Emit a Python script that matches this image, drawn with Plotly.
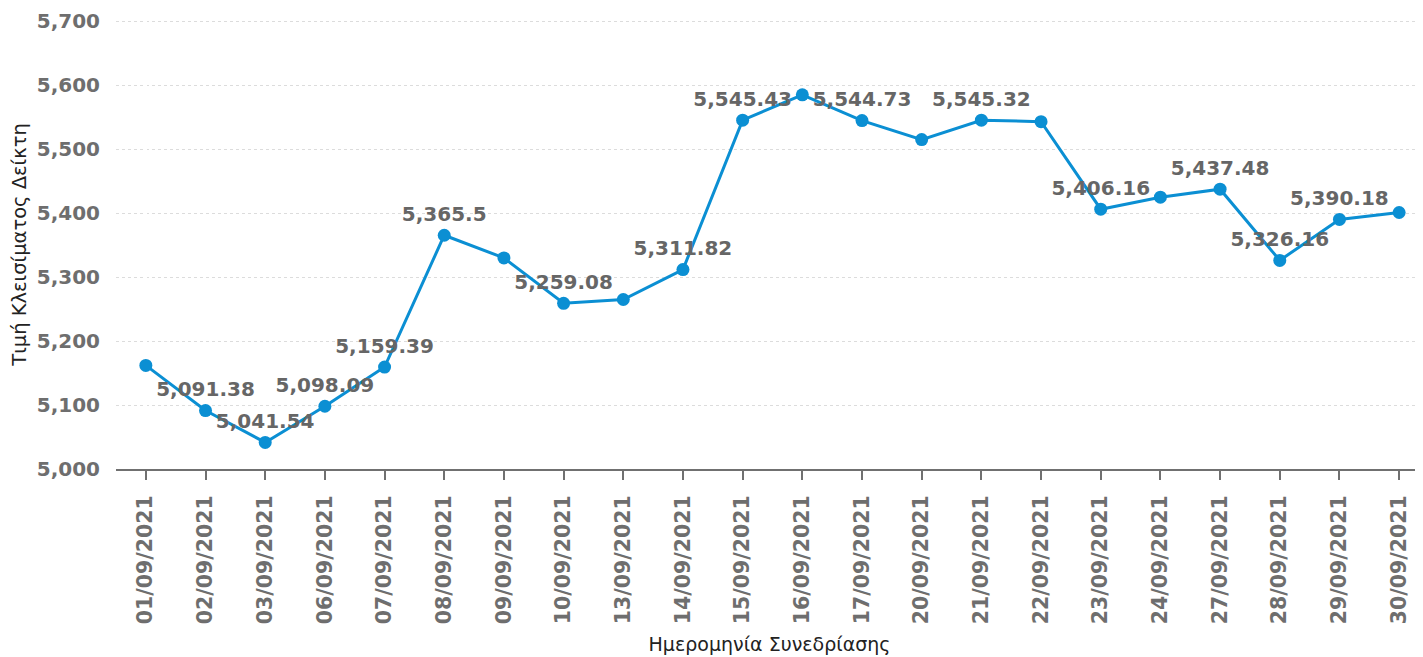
import plotly.graph_objects as go

dates = ["01/09/2021", "02/09/2021", "03/09/2021", "06/09/2021", "07/09/2021", "08/09/2021",
         "09/09/2021", "10/09/2021", "13/09/2021", "14/09/2021", "15/09/2021", "16/09/2021",
         "17/09/2021", "20/09/2021", "21/09/2021", "22/09/2021", "23/09/2021", "24/09/2021",
         "27/09/2021", "28/09/2021", "29/09/2021", "30/09/2021"]
closes = [5162.0, 5091.38, 5041.54, 5098.09, 5159.39, 5365.5,
          5330.0, 5259.08, 5265.0, 5311.82, 5545.43, 5585.0,
          5544.73, 5515.0, 5545.32, 5543.0, 5406.16, 5425.0,
          5437.48, 5326.16, 5390.18, 5401.0]
shown_labels = [False, True, True, True, True, True,
                False, True, False, True, True, False,
                True, False, True, False, True, False,
                True, True, True, False]
y_ticks = [5000, 5100, 5200, 5300, 5400, 5500, 5600, 5700]

texts = [f"{v:,}" if s else "" for v, s in zip(closes, shown_labels)]
xi = list(range(len(dates)))

fig = go.Figure()
fig.add_trace(go.Scatter(
    x=xi, y=closes, mode="lines+markers+text",
    line=dict(color="#0b8fd3", width=3),
    marker=dict(color="#0b8fd3", size=13),
    text=texts, textposition="top center",
    textfont=dict(family="DejaVu Sans", size=20, color="#666666", weight="bold"),
    cliponaxis=False, showlegend=False,
))

fig.update_layout(
    width=1415, height=649,
    margin=dict(l=108, r=0, t=12, b=188),
    plot_bgcolor="white", paper_bgcolor="white",
    font=dict(family="DejaVu Sans", color="#333333"),
    xaxis=dict(
        tickmode="array", tickvals=xi, ticktext=dates, range=[-0.5, 21.4],
        tickangle=-90, ticks="outside", ticklen=9, tickcolor="#707070", tickwidth=2,
        ticklabelstandoff=7,
        showline=True, linecolor="#707070", linewidth=2, showgrid=False,
        automargin=False,
        tickfont=dict(family="DejaVu Sans", size=20.5, color="#6e6e6e", weight="bold"),
        title=dict(text="Ημερομηνία Συνεδρίασης", font=dict(size=19, color="#222222"), standoff=14),
    ),
    yaxis=dict(
        range=[5000, 5702], tickvals=y_ticks, tickformat=",",
        showgrid=True, gridcolor="#dcdcdc", griddash="dot", gridwidth=1,
        zeroline=False, showline=False, ticks="", automargin=False,
        ticklabelstandoff=15,
        tickfont=dict(family="DejaVu Sans", size=20, color="#6e6e6e", weight="bold"),
        title=dict(text="Τιμή Κλεισίματος Δείκτη", font=dict(size=19.5, color="#222222"), standoff=10),
    ),
)
fig.write_html("out.html")
